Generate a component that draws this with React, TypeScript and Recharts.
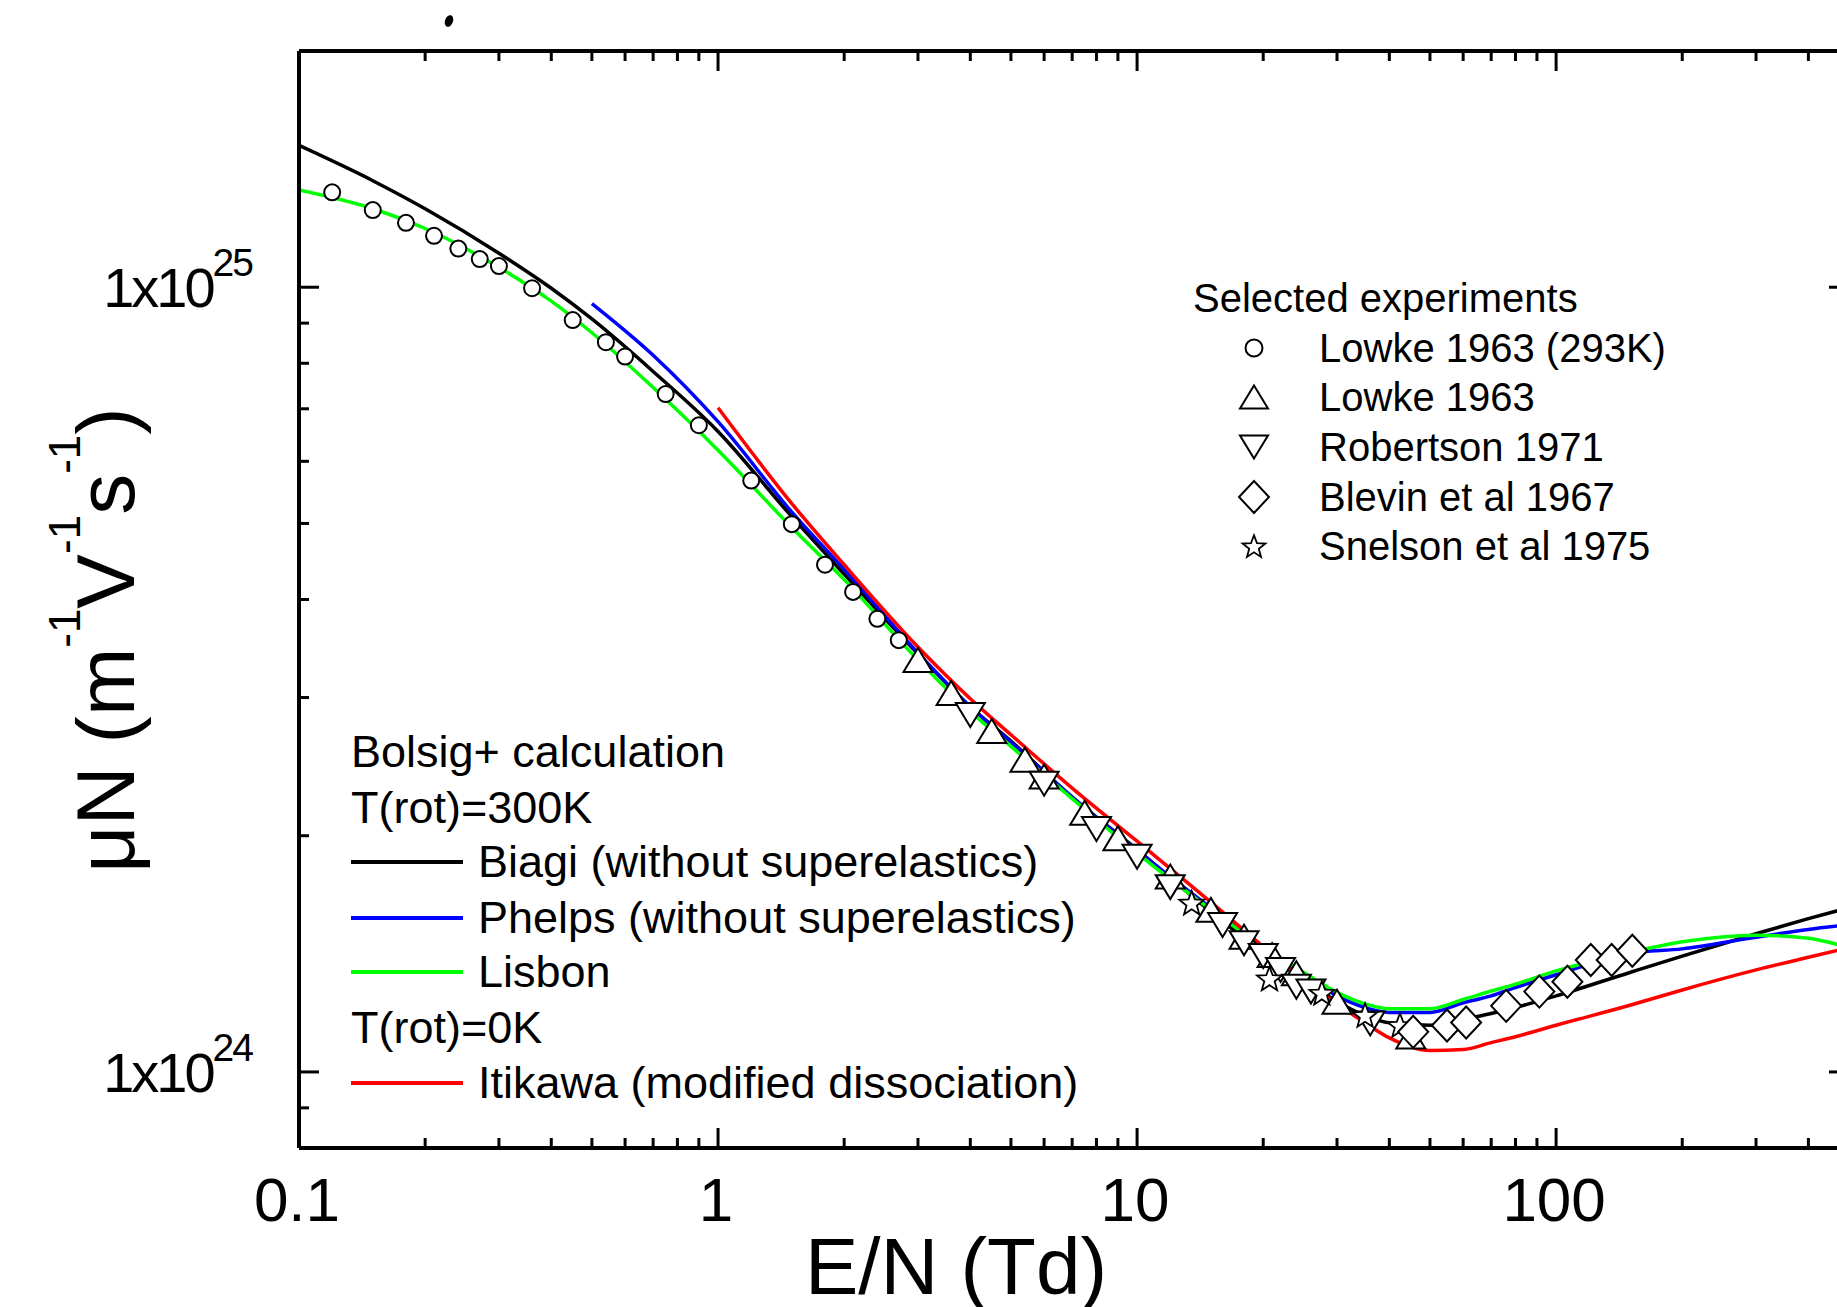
import React from 'react';
import { ComposedChart, Line, Scatter, XAxis, YAxis } from 'recharts';

// mobility values are in units of 1e24 m^-1 V^-1 s^-1, E/N in Td

// Bolsig+ calculations
const biagiEN = [0.1, 0.15, 0.2, 0.3, 0.4, 0.5, 0.7, 1, 1.5, 2, 3, 4, 5, 7, 10, 15, 20, 25, 30, 35, 40, 50, 60, 70, 80, 100, 150, 200, 300, 400, 500];
const biagiMu = [15.16, 13.67, 12.59, 11.05, 9.97, 9.11, 7.81, 6.55, 5.1, 4.31, 3.41, 2.92, 2.64, 2.24, 1.92, 1.6, 1.42, 1.31, 1.23, 1.18, 1.155, 1.147, 1.167, 1.187, 1.208, 1.25, 1.339, 1.405, 1.5, 1.568, 1.62];

const lisbonEN = [0.1, 0.15, 0.2, 0.3, 0.4, 0.5, 0.7, 1, 1.5, 2, 3, 4, 5, 7, 10, 15, 20, 25, 30, 35, 40, 50, 60, 70, 80, 100, 150, 200, 300, 400, 500];
const lisbonMu = [13.3, 12.59, 11.88, 10.6, 9.6, 8.75, 7.45, 6.2, 4.94, 4.24, 3.35, 2.88, 2.6, 2.23, 1.9, 1.61, 1.444, 1.339, 1.263, 1.221, 1.204, 1.204, 1.237, 1.268, 1.294, 1.345, 1.42, 1.465, 1.494, 1.48, 1.44];

const phelpsEN = [0.5, 0.7, 1, 1.5, 2, 3, 4, 5, 7, 10, 15, 20, 25, 30, 35, 40, 50, 60, 70, 80, 100, 150, 200, 300, 400, 500];
const phelpsMu = [9.53, 8.19, 6.74, 5.17, 4.37, 3.42, 2.92, 2.63, 2.24, 1.915, 1.618, 1.444, 1.33, 1.25, 1.208, 1.191, 1.191, 1.225, 1.25, 1.281, 1.33, 1.416, 1.435, 1.485, 1.519, 1.54];

const itikawaEN = [1, 1.5, 2, 3, 4, 5, 7, 10, 15, 20, 25, 30, 35, 40, 50, 60, 70, 80, 100, 150, 200, 300, 400, 500];
const itikawaMu = [7.02, 5.3, 4.43, 3.48, 2.99, 2.69, 2.3, 1.968, 1.646, 1.444, 1.31, 1.221, 1.155, 1.105, 1.065, 1.068, 1.09, 1.109, 1.147, 1.216, 1.272, 1.349, 1.4, 1.44];

// selected experiments
const lowke293EN = [0.12, 0.15, 0.18, 0.21, 0.24, 0.27, 0.3, 0.36, 0.45, 0.54, 0.6, 0.75, 0.9, 1.2, 1.5, 1.8, 2.1, 2.4, 2.7];
const lowke293Mu = [13.21, 12.54, 12.08, 11.63, 11.2, 10.86, 10.64, 9.97, 9.08, 8.51, 8.16, 7.31, 6.67, 5.67, 4.99, 4.43, 4.09, 3.78, 3.55];

const lowkeEN = [3, 3.6, 4.5, 5.4, 6, 7.5, 9, 12, 15, 18, 21, 24, 30, 45];
const lowkeMu = [3.35, 3.04, 2.72, 2.5, 2.38, 2.14, 1.985, 1.774, 1.609, 1.487, 1.409, 1.336, 1.229, 1.11];

const robertsonEN = [4, 6, 8, 10, 12, 16, 18, 20, 22, 24, 26, 36];
const robertsonMu = [2.85, 2.33, 2.04, 1.88, 1.72, 1.539, 1.459, 1.405, 1.349, 1.284, 1.266, 1.153];

const blevinEN = [45.6, 54.9, 61, 76, 91.2, 106.4, 121, 135.7, 152];
const blevinMu = [1.125, 1.146, 1.156, 1.214, 1.266, 1.303, 1.389, 1.389, 1.427];

const snelsonEN = [13.5, 20.7, 27.6, 35, 42.4];
const snelsonMu = [1.644, 1.316, 1.262, 1.182, 1.148];

// axes
const xTicks = [0.1, 0.2, 0.3, 0.4, 0.5, 0.6, 0.7, 0.8, 0.9, 1, 2, 3, 4, 5, 6, 7, 8, 9, 10, 20, 30, 40, 50, 60, 70, 80, 90, 100, 200, 300, 400, 500];
const xMajorTicks = [0.1, 1, 10, 100];
const xTickLabels = ['0.1', '1', '10', '100'];
const yTicks = [0.8, 0.9, 1, 2, 3, 4, 5, 6, 7, 8, 9, 10, 20];
const yMajorTicks = [1, 10];
const yTickExponents = ['24', '25'];

const FONT = '"Liberation Sans", Arial, Helvetica, sans-serif';

const pts = (xs: number[], ys: number[]) => xs.map((x, i) => ({ x, y: ys[i] }));

function BottomTick({ x, y, payload }: any) {
  const i = xMajorTicks.indexOf(payload.value);
  return (
    <g>
      <line x1={x} x2={x} y1={y} y2={y - (i >= 0 ? 20 : 10)} stroke="#000" strokeWidth={3} />
      {i >= 0 && (
        <text x={x - 2} y={y + 73} textAnchor="middle" fontSize={62} fontFamily={FONT} fill="#000">
          {xTickLabels[i]}
        </text>
      )}
    </g>
  );
}

function TopTick({ x, y, payload }: any) {
  const major = xMajorTicks.includes(payload.value);
  return <line x1={x} x2={x} y1={y} y2={y + (major ? 20 : 10)} stroke="#000" strokeWidth={3} />;
}

function LeftTick({ x, y, payload }: any) {
  const i = yMajorTicks.indexOf(payload.value);
  return (
    <g>
      <line x1={x} x2={x + (i >= 0 ? 20 : 10)} y1={y} y2={y} stroke="#000" strokeWidth={3} />
      {i >= 0 && (
        <text x={x - 47} y={y + 20} textAnchor="end" fontSize={56} fontFamily={FONT} fill="#000" letterSpacing={-3}>
          1x10
          <tspan dy={-31} fontSize={39} letterSpacing={-2}>
            {yTickExponents[i]}
          </tspan>
        </text>
      )}
    </g>
  );
}

function RightTick({ x, y, payload }: any) {
  const major = yMajorTicks.includes(payload.value);
  return <line x1={x} x2={x - (major ? 20 : 10)} y1={y} y2={y} stroke="#000" strokeWidth={3} />;
}

const stroke = { fill: '#fff', stroke: '#000', strokeWidth: 2 };

function circleMark(cx: number, cy: number, r: number) {
  return <circle cx={cx} cy={cy} r={r} {...stroke} />;
}
function triUpMark(cx: number, cy: number, w: number, h: number) {
  return <polygon points={`${cx},${cy - h} ${cx + w},${cy + h} ${cx - w},${cy + h}`} {...stroke} />;
}
function triDownMark(cx: number, cy: number, w: number, h: number) {
  return <polygon points={`${cx},${cy + h} ${cx + w},${cy - h} ${cx - w},${cy - h}`} {...stroke} />;
}
function diamondMark(cx: number, cy: number, w: number, h: number) {
  return <polygon points={`${cx},${cy - h} ${cx + w},${cy} ${cx},${cy + h} ${cx - w},${cy}`} {...stroke} />;
}
function starMark(cx: number, cy: number, r: number) {
  const p: string[] = [];
  for (let k = 0; k < 10; k++) {
    const rr = k % 2 === 0 ? r : r * 0.42;
    const a = -Math.PI / 2 + (k * Math.PI) / 5;
    p.push(`${cx + rr * Math.cos(a)},${cy + rr * Math.sin(a) + r * 0.1}`);
  }
  return <polygon points={p.join(' ')} {...stroke} strokeWidth={1.8} />;
}

const lineStyle = { dot: false, isAnimationActive: false, type: 'monotoneX' as const, strokeWidth: 3.5 };
const axisLineStyle = { stroke: '#000', strokeWidth: 4 };

export default function App() {
  const leftRows = [
    { y: 862, color: '#000000', text: 'Biagi (without superelastics)' },
    { y: 918, color: '#0000ff', text: 'Phelps (without superelastics)' },
    { y: 972, color: '#00ff00', text: 'Lisbon' },
    { y: 1083, color: '#ff0000', text: 'Itikawa (modified dissociation)' },
  ];
  const rightRows = [
    { y: 348, text: 'Lowke 1963 (293K)', mark: circleMark(1254, 348, 8.5) },
    { y: 397, text: 'Lowke 1963', mark: triUpMark(1254, 397, 14, 11.5) },
    { y: 447, text: 'Robertson 1971', mark: triDownMark(1254, 447, 14, 11.5) },
    { y: 497, text: 'Blevin et al 1967', mark: diamondMark(1254, 497, 15, 16) },
    { y: 546, text: 'Snelson et al 1975', mark: starMark(1254, 546, 12) },
  ];

  return (
    <div
      style={{
        position: 'absolute',
        left: 0,
        top: 0,
        width: 1837,
        height: 1307,
        overflow: 'hidden',
        background: '#fff',
      }}
    >
      <ComposedChart width={1900} height={1307} margin={{ top: 50, right: 50, bottom: 158, left: 298 }}>
        <XAxis
          dataKey="x"
          type="number"
          scale="log"
          domain={[0.1, 500]}
          allowDataOverflow
          ticks={xTicks}
          interval={0}
          height={1}
          tickSize={0}
          tickMargin={0}
          tickLine={false}
          tick={<BottomTick />}
          axisLine={axisLineStyle}
        />
        <XAxis
          xAxisId="top"
          orientation="top"
          dataKey="x"
          type="number"
          scale="log"
          domain={[0.1, 500]}
          allowDataOverflow
          ticks={xTicks}
          interval={0}
          height={1}
          tickSize={0}
          tickMargin={0}
          tickLine={false}
          tick={<TopTick />}
          axisLine={axisLineStyle}
        />
        <YAxis
          dataKey="y"
          type="number"
          scale="log"
          domain={[0.8, 20]}
          allowDataOverflow
          ticks={yTicks}
          interval={0}
          width={1}
          tickSize={0}
          tickMargin={0}
          tickLine={false}
          tick={<LeftTick />}
          axisLine={axisLineStyle}
        />
        <YAxis
          yAxisId="right"
          orientation="right"
          dataKey="y"
          type="number"
          scale="log"
          domain={[0.8, 20]}
          allowDataOverflow
          ticks={yTicks}
          interval={0}
          width={1}
          tickSize={0}
          tickMargin={0}
          tickLine={false}
          tick={<RightTick />}
          axisLine={axisLineStyle}
        />

        <Line data={pts(biagiEN, biagiMu)} dataKey="y" stroke="#000000" {...lineStyle} />
        <Line data={pts(phelpsEN, phelpsMu)} dataKey="y" stroke="#0000ff" {...lineStyle} />
        <Line data={pts(lisbonEN, lisbonMu)} dataKey="y" stroke="#00ff00" {...lineStyle} />
        <Line data={pts(itikawaEN, itikawaMu)} dataKey="y" stroke="#ff0000" {...lineStyle} />

        <Scatter
          data={pts(lowke293EN, lowke293Mu)}
          dataKey="y"
          isAnimationActive={false}
          shape={(p: any) => circleMark(p.cx, p.cy, 8)}
        />
        <Scatter
          data={pts(lowkeEN, lowkeMu)}
          dataKey="y"
          isAnimationActive={false}
          shape={(p: any) => triUpMark(p.cx, p.cy, 14.5, 12)}
        />
        <Scatter
          data={pts(robertsonEN, robertsonMu)}
          dataKey="y"
          isAnimationActive={false}
          shape={(p: any) => triDownMark(p.cx, p.cy, 14.5, 12)}
        />
        <Scatter
          data={pts(snelsonEN, snelsonMu)}
          dataKey="y"
          isAnimationActive={false}
          shape={(p: any) => starMark(p.cx, p.cy, 13)}
        />
        <Scatter
          data={pts(blevinEN, blevinMu)}
          dataKey="y"
          isAnimationActive={false}
          shape={(p: any) => diamondMark(p.cx, p.cy, 15, 16)}
        />
      </ComposedChart>

      <svg
        width={1837}
        height={1307}
        style={{ position: 'absolute', left: 0, top: 0, pointerEvents: 'none' }}
        fontFamily={FONT}
        fill="#000"
      >
        <ellipse cx={449} cy={21} rx={4} ry={6} transform="rotate(20 449 21)" fill="#000" />

        <text x={956} y={1294} textAnchor="middle" fontSize={80}>
          E/N (Td)
        </text>
        <text transform="translate(134 640) rotate(-90)" textAnchor="middle" fontSize={82}>
          μN (m
          <tspan dy={-54} fontSize={44}>
            -1
          </tspan>
          <tspan dy={54}>V</tspan>
          <tspan dy={-54} fontSize={44}>
            -1
          </tspan>
          <tspan dy={54}>s</tspan>
          <tspan dy={-54} fontSize={44}>
            -1
          </tspan>
          <tspan dy={54}>)</tspan>
        </text>

        {/* calculation legend */}
        <text x={351} y={767} fontSize={45}>
          Bolsig+ calculation
        </text>
        <text x={351} y={823} fontSize={45}>
          T(rot)=300K
        </text>
        <text x={351} y={1043} fontSize={45}>
          T(rot)=0K
        </text>
        {leftRows.map((r) => (
          <g key={r.text}>
            <line x1={351} x2={463} y1={r.y} y2={r.y} stroke={r.color} strokeWidth={4} />
            <text x={478} y={r.y + 15} fontSize={45}>
              {r.text}
            </text>
          </g>
        ))}

        {/* experiments legend */}
        <text x={1193} y={312} fontSize={40}>
          Selected experiments
        </text>
        {rightRows.map((r) => (
          <g key={r.text}>
            {r.mark}
            <text x={1319} y={r.y + 14} fontSize={40}>
              {r.text}
            </text>
          </g>
        ))}
      </svg>
    </div>
  );
}
